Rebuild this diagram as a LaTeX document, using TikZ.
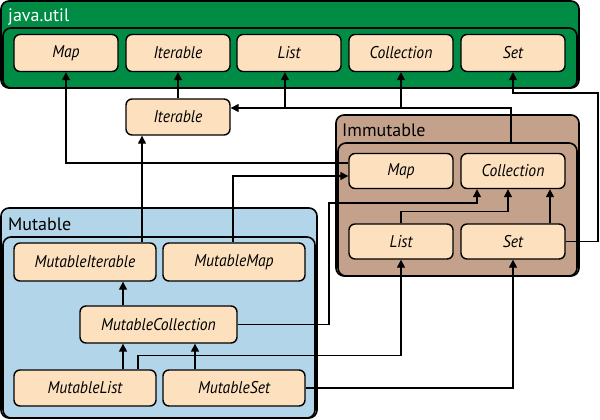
\documentclass[tikz,border=0pt]{standalone}
\usepackage{fontspec}
\setmainfont{PT Sans}
\newfontfamily\clsfont[FakeStretch=0.92]{PT Sans}
\usetikzlibrary{arrows.meta}
\definecolor{jgreen}{HTML}{008C45}
\definecolor{peach}{HTML}{FDE1BF}
\definecolor{imbrown}{HTML}{C4A18B}
\definecolor{mublue}{HTML}{B3D5EA}
\tikzset{
 cls/.style={draw=black, line width=1.4pt, fill=peach, rounded corners=6pt, minimum height=37pt, font=\clsfont\itshape\fontsize{17}{17}\selectfont, inner sep=0pt},
 grp/.style={draw=black, line width=1.6pt, rounded corners=8pt},
 grptitle/.style={font=\fontsize{18}{18}\selectfont, anchor=base west, inner sep=0pt},
 arr/.style={draw=black, line width=1.4pt, -{Triangle[width=8pt,length=8pt]}},
}
\begin{document}
\begin{tikzpicture}[x=1pt,y=-1pt]
\useasboundingbox (0,0) rectangle (600,420);
% groups
\draw[grp, fill=jgreen] (1,1) rectangle (579,88);
\draw[grp] (3,28) rectangle (577,88);
\node[grptitle, text=white] (tj) at (8,22) {java.util};
\draw[grp, fill=imbrown] (336,115) rectangle (579,276);
\draw[grp] (338,143) rectangle (577,276);
\node[grptitle] (ti) at (342,136) {Immutable};
\draw[grp, fill=mublue] (1,208) rectangle (317,418);
\draw[grp] (3,237) rectangle (315,418);
\node[grptitle] (tm) at (8,230) {Mutable};
% java.util nodes
\node[cls, minimum width=104pt] (jmap) at (66,53) {Map};
\node[cls, minimum width=104pt] (jit) at (178,53) {Iterable};
\node[cls, minimum width=104pt] (jli) at (289,53) {List};
\node[cls, minimum width=104pt] (jco) at (401,53) {Collection};
\node[cls, minimum width=104pt] (jse) at (513,53) {Set};
% middle iterable
\node[cls, minimum width=104pt, minimum height=36pt] (itm) at (178,117) {Iterable};
% immutable
\node[cls, minimum width=104pt, minimum height=35pt] (imap) at (401,171) {Map};
\node[cls, minimum width=104pt, minimum height=35pt] (ico) at (513,171) {Collection};
\node[cls, minimum width=104pt, minimum height=35pt] (ili) at (401,241.5) {List};
\node[cls, minimum width=104pt, minimum height=35pt] (ise) at (513,241.5) {Set};
% mutable
\node[cls, minimum width=142pt, minimum height=38pt] (mit) at (85,262) {MutableIterable};
\node[cls, minimum width=142pt, minimum height=38pt] (mmap) at (234,262) {MutableMap};
\node[cls, minimum width=157pt, minimum height=37pt] (mco) at (158.5,324.5) {MutableCollection};
\node[cls, minimum width=142pt, minimum height=36pt] (mli) at (85,388) {MutableList};
\node[cls, minimum width=142pt, minimum height=36pt] (mse) at (234,388) {MutableSet};
% connectors
\coordinate (imtop) at (511,143);
\coordinate (bus) at (0,108);
\draw[arr] (itm) -- (jit);
\draw[arr] (imtop) |- ([yshift=9pt]itm.east);
\draw[arr] ([xshift=-4pt]jli.south |- bus) -- ([xshift=-4pt]jli.south);
\draw[arr] (jco.south |- bus) -- (jco.south);
\draw[arr] ([yshift=8pt]imap.west) -| (jmap.south);
\draw[arr] ([xshift=-1pt]mmap.north) |- ([yshift=-5pt]imap.west);
\draw[arr] ([xshift=57pt]mit.north) -- ([xshift=57pt]mit.north |- itm.south);
\draw[arr] ([xshift=-35.5pt]mco.north) -- ([xshift=-35.5pt]mco.north |- mit.south);
\draw[arr] ([xshift=38pt]mli.north) -- ([xshift=38pt]mli.north |- mco.south);
\draw[arr] ([xshift=-39pt]mse.north) -- ([xshift=-39pt]mse.north |- mco.south);
\draw[arr] ([xshift=53pt]mli.north) -- ++(0,-14) -| (ili.south);
\draw[arr] (mse.east) -| (ise.south);
\draw[arr] (mco.east) -| (329,203) -| ([xshift=-36pt]ico.south);
\draw[arr] (ili.north) -- ++(0,-12) -| ([xshift=-5pt]ico.south);
\draw[arr] ([xshift=37pt]ise.north) -- ([xshift=37pt]ico.south);
\draw[arr] (ise.east) -| (598,93) -| (jse.south);
\end{tikzpicture}
\end{document}
